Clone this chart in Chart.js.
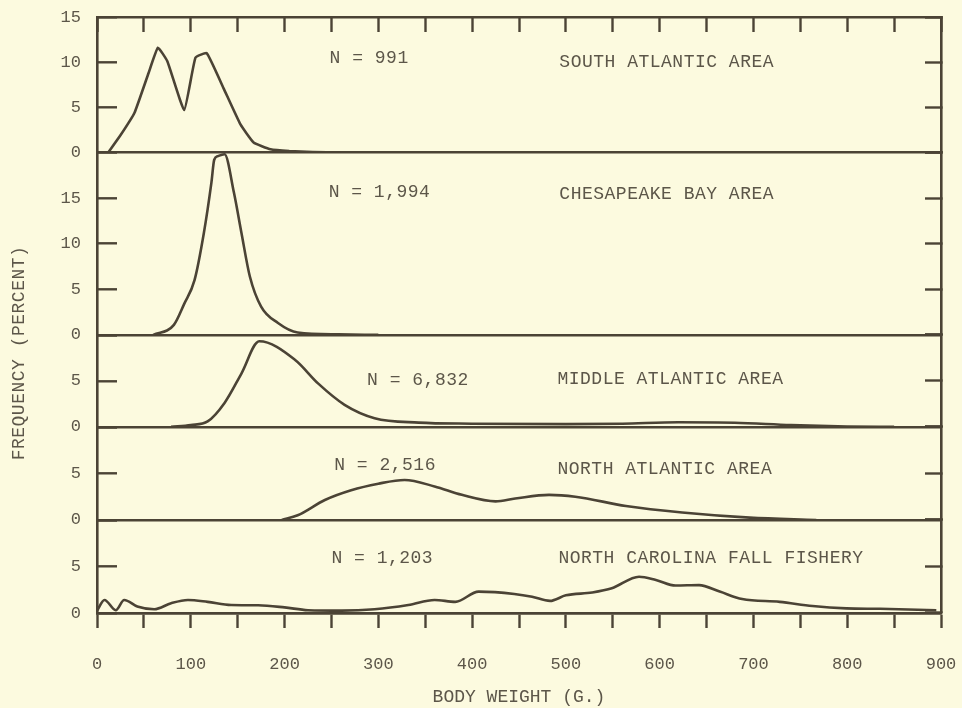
<!DOCTYPE html>
<html>
<head>
<meta charset="utf-8">
<script src="https://cdn.jsdelivr.net/npm/chart.js@4.4.1/dist/chart.umd.min.js"></script>
<style>
  html, body { margin: 0; padding: 0; background: #fcfadf; }
  #wrap { width: 962px; height: 708px; }
</style>
</head>
<body>
<div id="wrap"><canvas id="chart" width="962" height="708"></canvas></div>
<script>
// Body weight (g) against frequency (%) for each area
const southWeights = [12, 25, 40, 55, 65, 75, 93, 105, 117, 135, 153, 167, 185, 205, 230, 260];
const southFreq    = [0, 1.9, 4.4, 8.8, 11.6, 10.1, 4.7, 10.5, 11.0, 7.1, 3.1, 1.1, 0.35, 0.15, 0.05, 0];

const chesWeights = [60, 82, 93, 104, 114, 122, 125, 129, 136, 146, 154, 163, 175, 193, 214, 257, 300];
const chesFreq    = [0, 1.1, 3.4, 6.0, 11.2, 16.7, 19.2, 19.6, 19.8, 15.6, 11.2, 6.4, 3.1, 1.3, 0.25, 0.05, 0];

const midWeights = [79, 100, 118, 136, 154, 173, 211, 236, 264, 296, 343, 400, 500, 560, 620, 680, 740, 800, 850];
const midFreq    = [0, 0.2, 0.6, 2.6, 5.8, 9.3, 7.3, 4.7, 2.4, 0.95, 0.47, 0.35, 0.3, 0.35, 0.5, 0.45, 0.2, 0.05, 0];

const northWeights = [197, 214, 243, 271, 300, 328, 360, 389, 425, 446, 482, 510, 564, 624, 696, 767];
const northFreq    = [0, 0.5, 2.15, 3.2, 3.9, 4.3, 3.6, 2.7, 2.0, 2.3, 2.7, 2.5, 1.5, 0.8, 0.25, 0];

const ncWeights = [0, 8, 20, 29, 43, 61, 79, 97, 118, 143, 172, 200, 225, 261, 296, 332, 360, 382, 407, 445,
                   464, 483, 500, 528, 549, 578, 596, 617, 642, 664, 688, 728, 763, 799, 835, 895];
const ncFreq    = [0.25, 1.4, 0.3, 1.4, 0.7, 0.4, 1.05, 1.4, 1.2, 0.86, 0.83, 0.6, 0.3, 0.25, 0.4, 0.86, 1.4, 1.2, 2.3, 2.05,
                   1.75, 1.3, 1.9, 2.2, 2.65, 3.9, 3.55, 2.95, 3.0, 2.3, 1.5, 1.2, 0.75, 0.5, 0.45, 0.3];

const areaNames = ['SOUTH ATLANTIC AREA', 'CHESAPEAKE BAY AREA', 'MIDDLE ATLANTIC AREA',
                   'NORTH ATLANTIC AREA', 'NORTH CAROLINA FALL FISHERY'];
const sampleSizes = ['N = 991', 'N = 1,994', 'N = 6,832', 'N = 2,516', 'N = 1,203'];
const panelMax = [15, 20, 10, 10, 10];
const weightTicks = [0, 100, 200, 300, 400, 500, 600, 700, 800, 900];

// relative panel heights as drawn in the original (the scale per % differs a little)
const panelHeights = [135.4, 182.3, 92, 93, 93];

// where the panel captions sit, in data units [x of N, y of N, x of name, y of name]
const captionSpots = [
  [248, 10.4, 493, 10.0],
  [247, 15.6, 493, 15.4],
  [288, 5.1, 491, 5.2],
  [253, 5.9, 491, 5.4],
  [250, 5.9, 492, 5.9]
];

const INK = '#4b4335';
const TEXT = '#5c5649';
const MONO = '"Liberation Mono", "DejaVu Sans Mono", monospace';

const series = [
  [southWeights, southFreq],
  [chesWeights, chesFreq],
  [midWeights, midFreq],
  [northWeights, northFreq],
  [ncWeights, ncFreq]
];

const datasets = series.map(([w, f], i) => ({
  label: areaNames[i],
  data: w.map((x, k) => ({x: x, y: f[k]})),
  yAxisID: 'y' + (i + 1),
  borderColor: INK,
  borderWidth: 2.6,
  pointRadius: 0,
  fill: false,
  tension: i === 0 ? 0.12 : 0,
  cubicInterpolationMode: i === 0 ? 'default' : 'monotone'
}));

// fixed box size, and no label overhang padding pushed into the layout
function pinBox(w, h) {
  return s => {
    if (w !== null) s.width = w;
    if (h !== null) s.height = h;
    s.paddingTop = s.paddingBottom = s.paddingLeft = s.paddingRight = 0;
  };
}

const scales = {
  x: {
    type: 'linear',
    position: 'bottom',
    min: 0,
    max: 900,
    border: { display: true, color: INK, width: 2.6 },
    grid: { drawOnChartArea: false, drawTicks: true, tickLength: 15, tickColor: INK, tickWidth: 2.4 },
    ticks: {
      stepSize: 50,
      autoSkip: false,
      maxRotation: 0,
      padding: 26,
      color: TEXT,
      font: { family: MONO, size: 17 },
      callback: v => weightTicks.includes(v) ? String(v) : ''
    },
    title: {
      display: true,
      text: 'BODY WEIGHT (G.)',
      color: TEXT,
      font: { family: MONO, size: 18 },
      padding: { top: 0, bottom: 0 }
    },
    afterFit: pinBox(null, 95)
  },
  xTop: {
    type: 'linear',
    position: 'top',
    min: 0,
    max: 900,
    border: { display: true, color: INK, width: 2.6 },
    grid: { drawOnChartArea: false, drawTicks: true, tickLength: -15, tickColor: INK, tickWidth: 2.4 },
    ticks: { stepSize: 50, display: false },
    afterFit: pinBox(null, 0)
  }
};

panelMax.forEach((max, i) => {
  scales['y' + (i + 1)] = {
    type: 'linear',
    position: 'left',
    stack: 'left',
    stackWeight: panelHeights[i],
    weight: 10 - i,
    min: 0,
    max: max,
    border: { display: true, color: INK, width: 2.6 },
    grid: {
      drawOnChartArea: true,
      drawTicks: true,
      tickLength: -20,
      tickColor: INK,
      tickWidth: 2.4,
      lineWidth: 2.6,
      color: c => (c.tick && c.tick.value === 0) ? INK : 'rgba(0,0,0,0)'
    },
    ticks: {
      stepSize: 5,
      padding: 36,
      color: TEXT,
      font: { family: MONO, size: 17 },
      callback: (v, idx, ticks) => (i > 0 && idx === ticks.length - 1) ? '' : String(v)
    },
    afterFit: pinBox(97, null)
  };
  scales['r' + (i + 1)] = {
    type: 'linear',
    position: 'right',
    stack: 'right',
    stackWeight: panelHeights[i],
    weight: i + 1,
    min: 0,
    max: max,
    border: { display: true, color: INK, width: 2.6 },
    grid: { drawOnChartArea: false, drawTicks: true, tickLength: -16, tickColor: INK, tickWidth: 2.4 },
    ticks: { stepSize: 5, display: false },
    afterFit: pinBox(21, null)
  };
});

// captions inside each panel and the rotated frequency title
const captions = {
  id: 'captions',
  afterDraw(chart) {
    const ctx = chart.ctx;
    const xs = chart.scales.x;
    ctx.save();
    ctx.fillStyle = TEXT;
    ctx.font = '18px ' + MONO;
    ctx.letterSpacing = '0.5px';
    ctx.textAlign = 'left';
    ctx.textBaseline = 'middle';
    captionSpots.forEach((spot, i) => {
      const ys = chart.scales['y' + (i + 1)];
      ctx.fillText(sampleSizes[i], xs.getPixelForValue(spot[0]), ys.getPixelForValue(spot[1]));
      ctx.fillText(areaNames[i], xs.getPixelForValue(spot[2]), ys.getPixelForValue(spot[3]));
    });
    ctx.translate(19, 353);
    ctx.rotate(-Math.PI / 2);
    ctx.textAlign = 'center';
    ctx.fillText('FREQUENCY (PERCENT)', 0, 0);
    ctx.restore();
  }
};

new Chart(document.getElementById('chart'), {
  type: 'line',
  data: { datasets: datasets },
  options: {
    responsive: false,
    animation: false,
    devicePixelRatio: 1,
    layout: { padding: { top: 17, left: 0, right: 0, bottom: 0 } },
    plugins: { legend: { display: false }, tooltip: { enabled: false } },
    scales: scales
  },
  plugins: [captions]
});
</script>
</body>
</html>
